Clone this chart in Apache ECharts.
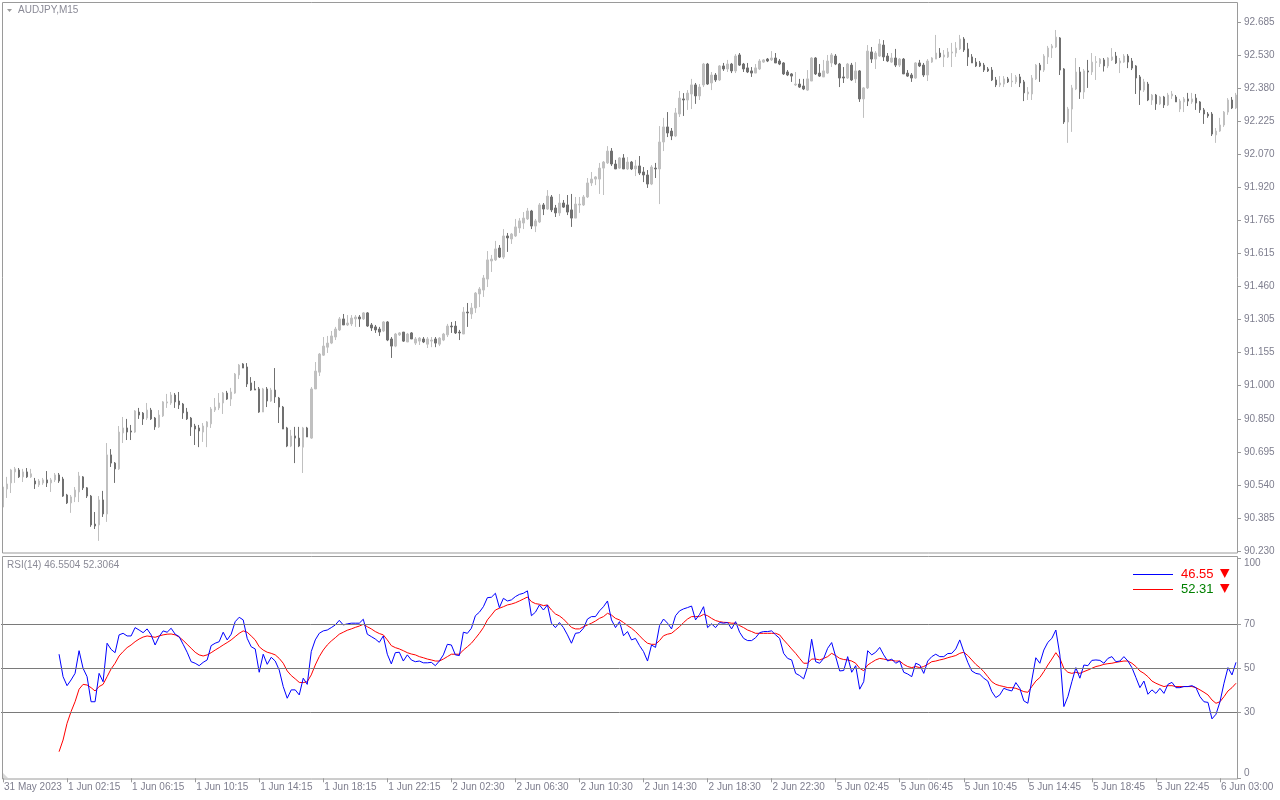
<!DOCTYPE html>
<html><head><meta charset="utf-8">
<script src="https://cdn.jsdelivr.net/npm/echarts@6/dist/echarts.min.js"></script>
<style>html,body{margin:0;padding:0;background:#fff}#c{width:1280px;height:800px}</style>
</head><body><div id="c"></div>
<script>
const symbolTitle = 'AUDJPY,M15';
const rsiTitle = 'RSI(14) 46.5504 52.3064';
const legendRsi = '46.55';
const legendSignal = '52.31';

const opens = [
90.434,90.518,90.546,90.597,90.606,90.574,90.597,90.574,90.555,90.537,
90.546,90.560,90.546,90.560,90.583,90.564,90.490,90.453,90.481,90.504,
90.574,90.523,90.485,90.355,90.351,90.467,90.402,90.676,90.638,90.611,
90.778,90.801,90.787,90.782,90.875,90.870,90.847,90.884,90.847,90.806,
90.857,90.917,90.917,90.954,90.926,90.912,90.875,90.847,90.810,90.801,
90.782,90.806,90.820,90.884,90.894,90.917,90.963,90.935,90.963,91.047,
91.098,91.084,91.010,90.982,90.982,90.875,90.982,90.926,90.977,90.940,
90.898,90.801,90.717,90.764,90.754,90.712,90.801,90.754,90.982,91.060,
91.139,91.176,91.195,91.223,91.256,91.307,91.279,91.284,91.307,91.316,
91.307,91.335,91.279,91.270,91.260,91.251,91.293,91.214,91.181,91.233,
91.246,91.200,91.242,91.195,91.204,91.214,91.190,91.204,91.214,91.190,
91.209,91.233,91.274,91.274,91.246,91.237,91.339,91.330,91.358,91.423,
91.441,91.492,91.576,91.581,91.636,91.594,91.692,91.678,91.692,91.729,
91.752,91.771,91.808,91.738,91.757,91.836,91.817,91.873,91.822,91.799,
91.845,91.836,91.813,91.775,91.836,91.836,91.873,91.938,91.956,91.956,
92.007,92.031,92.086,92.026,92.007,92.054,92.003,92.035,92.003,92.017,
91.989,91.975,91.933,92.007,92.003,92.128,92.198,92.179,92.156,92.258,
92.328,92.323,92.351,92.393,92.342,92.393,92.490,92.402,92.439,92.416,
92.481,92.467,92.490,92.458,92.532,92.490,92.472,92.458,92.448,92.467,
92.499,92.513,92.509,92.518,92.504,92.495,92.453,92.444,92.393,92.397,
92.388,92.369,92.411,92.518,92.448,92.430,92.448,92.495,92.527,92.490,
92.430,92.425,92.485,92.421,92.458,92.328,92.379,92.546,92.513,92.527,
92.578,92.527,92.499,92.518,92.485,92.513,92.448,92.439,92.425,92.495,
92.485,92.439,92.499,92.513,92.541,92.523,92.523,92.541,92.541,92.560,
92.606,92.560,92.523,92.499,92.495,92.485,92.467,92.462,92.416,92.393,
92.397,92.421,92.407,92.407,92.430,92.407,92.351,92.351,92.421,92.485,
92.462,92.523,92.564,92.569,92.611,92.467,92.221,92.281,92.374,92.453,
92.360,92.458,92.453,92.497,92.492,92.509,92.481,92.509,92.527,92.495,
92.499,92.527,92.504,92.481,92.430,92.369,92.397,92.323,92.346,92.305,
92.337,92.300,92.342,92.337,92.281,92.314,92.328,92.314,92.332,92.314,
92.277,92.258,92.258,92.161,92.179,92.207,92.267,92.323,92.286
];
const closes = [
90.527,90.541,90.606,90.611,90.574,90.597,90.574,90.588,90.541,90.555,
90.560,90.546,90.560,90.583,90.555,90.485,90.453,90.481,90.513,90.578,
90.523,90.485,90.351,90.346,90.467,90.402,90.676,90.638,90.611,90.782,
90.801,90.782,90.782,90.880,90.861,90.843,90.884,90.843,90.806,90.861,
90.922,90.922,90.954,90.922,90.908,90.871,90.843,90.806,90.796,90.787,
90.810,90.829,90.889,90.898,90.917,90.963,90.935,90.968,91.051,91.093,
91.079,91.005,90.977,90.977,90.875,90.982,90.926,90.977,90.945,90.898,
90.796,90.717,90.764,90.754,90.717,90.801,90.759,90.982,91.065,91.144,
91.181,91.195,91.228,91.260,91.307,91.279,91.288,91.311,91.316,91.307,
91.335,91.274,91.265,91.256,91.246,91.293,91.209,91.181,91.237,91.242,
91.204,91.237,91.214,91.214,91.218,91.200,91.214,91.209,91.195,91.218,
91.237,91.274,91.270,91.242,91.242,91.339,91.335,91.358,91.427,91.446,
91.497,91.581,91.585,91.632,91.594,91.692,91.683,91.701,91.734,91.762,
91.775,91.808,91.738,91.762,91.836,91.817,91.877,91.813,91.799,91.845,
91.826,91.803,91.775,91.840,91.840,91.873,91.938,91.956,91.966,92.007,
92.035,92.086,92.026,92.003,92.054,92.003,92.035,92.003,92.017,91.984,
91.975,91.933,92.012,92.003,92.128,92.198,92.170,92.156,92.263,92.332,
92.323,92.355,92.393,92.342,92.383,92.490,92.397,92.439,92.416,92.481,
92.467,92.490,92.458,92.527,92.485,92.467,92.453,92.448,92.472,92.504,
92.509,92.504,92.518,92.495,92.490,92.444,92.439,92.434,92.397,92.383,
92.374,92.421,92.518,92.444,92.434,92.458,92.504,92.532,92.490,92.425,
92.425,92.490,92.416,92.458,92.328,92.379,92.550,92.513,92.541,92.583,
92.523,92.504,92.518,92.485,92.513,92.444,92.434,92.425,92.495,92.481,
92.439,92.504,92.518,92.541,92.523,92.532,92.546,92.546,92.564,92.606,
92.555,92.523,92.495,92.481,92.481,92.462,92.458,92.416,92.393,92.402,
92.421,92.407,92.411,92.430,92.402,92.356,92.360,92.425,92.485,92.462,
92.527,92.564,92.574,92.615,92.462,92.221,92.281,92.379,92.453,92.360,
92.458,92.453,92.499,92.501,92.513,92.481,92.518,92.523,92.495,92.504,
92.527,92.499,92.471,92.425,92.369,92.407,92.323,92.346,92.305,92.337,
92.300,92.346,92.351,92.314,92.318,92.328,92.318,92.328,92.309,92.277,
92.258,92.249,92.165,92.179,92.207,92.267,92.323,92.286,92.346
];
const highs = [
90.537,90.574,90.611,90.620,90.615,90.611,90.615,90.611,90.569,90.564,
90.569,90.601,90.569,90.592,90.592,90.574,90.495,90.490,90.527,90.597,
90.578,90.527,90.490,90.411,90.485,90.509,90.731,90.703,90.643,90.810,
90.852,90.843,90.815,90.884,90.894,90.875,90.917,90.894,90.852,90.884,
90.926,90.959,90.968,90.963,90.968,90.917,90.894,90.852,90.820,90.815,
90.824,90.833,90.898,90.940,90.963,90.968,90.973,90.987,91.056,91.098,
91.102,91.102,91.037,91.019,90.991,90.987,90.991,90.987,91.079,90.945,
90.903,90.806,90.792,90.806,90.806,90.806,90.806,90.991,91.107,91.149,
91.223,91.228,91.251,91.270,91.316,91.330,91.325,91.325,91.325,91.325,
91.339,91.339,91.288,91.279,91.270,91.297,91.297,91.223,91.242,91.246,
91.246,91.242,91.246,91.223,91.223,91.223,91.223,91.223,91.223,91.223,
91.242,91.284,91.293,91.297,91.256,91.362,91.381,91.381,91.432,91.455,
91.511,91.622,91.604,91.669,91.650,91.724,91.706,91.706,91.771,91.775,
91.803,91.822,91.813,91.771,91.845,91.845,91.905,91.882,91.836,91.887,
91.859,91.882,91.887,91.873,91.873,91.882,91.961,91.989,91.970,92.031,
92.040,92.109,92.100,92.045,92.058,92.072,92.058,92.040,92.045,92.063,
92.012,91.998,92.021,92.031,92.202,92.240,92.267,92.193,92.286,92.365,
92.355,92.369,92.421,92.402,92.397,92.495,92.495,92.453,92.448,92.485,
92.495,92.509,92.495,92.536,92.541,92.495,92.495,92.476,92.490,92.513,
92.513,92.518,92.550,92.541,92.513,92.499,92.462,92.448,92.453,92.421,
92.421,92.462,92.522,92.522,92.490,92.509,92.532,92.541,92.536,92.495,
92.476,92.495,92.495,92.499,92.462,92.383,92.578,92.569,92.550,92.606,
92.601,92.541,92.541,92.560,92.518,92.518,92.462,92.448,92.499,92.509,
92.495,92.513,92.522,92.625,92.564,92.555,92.564,92.588,92.592,92.625,
92.615,92.588,92.536,92.518,92.504,92.495,92.476,92.476,92.430,92.434,
92.434,92.430,92.448,92.439,92.444,92.416,92.383,92.439,92.490,92.495,
92.536,92.574,92.583,92.648,92.615,92.471,92.291,92.393,92.518,92.476,
92.467,92.509,92.541,92.527,92.518,92.518,92.522,92.564,92.546,92.518,
92.536,92.536,92.518,92.485,92.439,92.421,92.407,92.351,92.351,92.342,
92.342,92.356,92.365,92.346,92.328,92.337,92.356,92.356,92.351,92.318,
92.286,92.267,92.267,92.193,92.240,92.272,92.332,92.337,92.356
];
const lows = [
90.420,90.476,90.499,90.546,90.569,90.550,90.569,90.569,90.518,90.527,
90.537,90.527,90.504,90.550,90.546,90.481,90.448,90.407,90.457,90.457,
90.513,90.476,90.342,90.332,90.277,90.388,90.365,90.620,90.546,90.606,
90.731,90.745,90.745,90.778,90.843,90.815,90.838,90.838,90.792,90.801,
90.852,90.894,90.908,90.894,90.889,90.843,90.838,90.764,90.722,90.712,
90.736,90.712,90.801,90.875,90.884,90.866,90.931,90.903,90.959,91.028,
91.079,90.991,90.973,90.977,90.871,90.875,90.898,90.922,90.917,90.824,
90.796,90.712,90.712,90.638,90.712,90.592,90.759,90.750,90.982,91.042,
91.135,91.149,91.190,91.209,91.251,91.279,91.274,91.274,91.270,91.270,
91.302,91.270,91.251,91.242,91.228,91.246,91.204,91.126,91.176,91.228,
91.200,91.200,91.214,91.186,91.186,91.195,91.172,91.176,91.176,91.181,
91.204,91.223,91.242,91.237,91.209,91.237,91.270,91.307,91.335,91.362,
91.409,91.455,91.525,91.576,91.590,91.585,91.618,91.655,91.687,91.706,
91.724,91.766,91.724,91.710,91.752,91.789,91.813,91.803,91.780,91.785,
91.822,91.789,91.734,91.775,91.799,91.831,91.868,91.924,91.928,91.887,
91.882,92.026,92.017,92.003,92.003,92.003,91.998,91.998,91.970,91.975,
91.942,91.915,91.928,91.961,91.840,92.086,92.151,92.137,92.151,92.244,
92.249,92.277,92.281,92.305,92.323,92.383,92.393,92.369,92.407,92.411,
92.458,92.453,92.448,92.448,92.481,92.453,92.448,92.430,92.448,92.462,
92.495,92.499,92.504,92.495,92.485,92.439,92.434,92.407,92.388,92.379,
92.369,92.365,92.411,92.439,92.430,92.430,92.444,92.476,92.485,92.383,
92.402,92.421,92.411,92.402,92.314,92.240,92.374,92.495,92.467,92.523,
92.504,92.499,92.495,92.476,92.476,92.444,92.430,92.407,92.421,92.476,
92.430,92.411,92.495,92.513,92.518,92.476,92.518,92.476,92.523,92.555,
92.546,92.481,92.495,92.476,92.476,92.453,92.453,92.411,92.383,92.383,
92.383,92.402,92.383,92.397,92.383,92.318,92.323,92.323,92.416,92.407,
92.453,92.490,92.518,92.564,92.439,92.212,92.124,92.175,92.369,92.328,
92.328,92.379,92.439,92.416,92.476,92.455,92.471,92.504,92.490,92.448,
92.495,92.471,92.462,92.351,92.300,92.360,92.318,92.300,92.277,92.300,
92.286,92.295,92.328,92.314,92.267,92.267,92.295,92.305,92.277,92.263,
92.212,92.240,92.156,92.124,92.175,92.198,92.254,92.281,92.281
];

const rsiStart = 14;
const rsiValues = [
56.4,46.2,42.1,44.7,47.7,58.0,
50.0,46.2,34.8,34.8,47.7,43.9,61.4,58.6,57.1,65.2,
65.9,64.7,64.7,68.5,67.4,66.2,67.9,65.2,60.6,64.4,
67.0,66.4,68.2,65.5,64.4,60.9,57.3,53.0,52.3,51.2,
52.7,53.8,60.3,61.4,62.1,66.4,62.9,65.5,71.2,73.2,
72.0,63.6,59.8,58.8,48.2,56.4,51.8,55.0,53.3,49.2,
41.7,36.4,40.2,40.2,37.9,45.5,42.7,57.6,62.9,65.9,
67.0,67.4,68.5,69.7,71.8,69.7,70.2,70.5,70.5,70.5,
72.3,65.5,64.4,63.3,61.8,64.7,56.4,52.0,57.1,57.3,
53.3,56.1,53.8,53.0,53.3,52.5,52.5,52.7,51.2,53.3,
56.1,60.9,60.6,56.1,55.8,66.4,65.9,68.2,73.9,75.5,
78.0,82.1,82.3,84.1,77.6,81.8,80.6,81.1,82.6,83.6,
84.1,85.2,73.9,75.5,78.8,76.5,78.8,70.5,68.5,70.8,
68.5,65.2,61.4,65.9,66.2,68.2,72.4,73.5,73.5,76.1,
78.0,80.6,72.0,68.5,71.2,64.8,66.7,62.9,63.6,60.3,
57.6,53.3,60.6,59.5,69.4,72.4,70.5,67.9,73.9,76.1,
77.0,77.6,78.3,72.0,74.5,78.0,68.5,70.2,68.5,70.8,
70.5,70.8,67.9,71.2,66.4,63.6,62.6,62.6,63.9,66.2,
66.7,66.7,67.0,65.2,63.6,56.8,54.5,53.8,47.7,46.7,
45.2,50.8,63.2,53.0,52.3,54.5,59.1,61.7,55.3,48.8,
49.0,55.3,48.2,51.2,40.5,43.9,58.0,56.1,57.3,59.5,
56.1,53.3,54.2,52.3,53.3,48.2,47.4,46.2,52.3,51.5,
47.7,53.3,55.3,56.4,55.3,55.3,56.7,56.8,58.8,62.9,
57.6,52.7,48.8,47.7,47.3,45.5,44.2,39.4,36.7,37.9,
40.9,40.2,39.7,43.5,40.9,35.2,34.1,44.7,54.8,52.3,
58.3,61.8,63.6,67.4,56.1,32.6,37.1,43.9,50.3,45.5,
51.5,51.2,53.6,53.8,53.6,52.3,54.5,55.3,53.0,53.3,
55.3,53.3,50.3,45.8,41.2,44.2,38.2,40.2,38.6,40.9,
38.6,42.7,43.6,41.2,41.2,41.7,41.7,42.1,41.2,37.1,
34.8,34.5,27.0,29.1,34.8,43.2,50.3,47.0,52.7
];
const rsiSignal = [
12.1,17.4,25.0,30.3,34.8,40.5,
42.7,42.4,41.2,39.7,41.7,42.7,46.2,49.7,52.3,55.6,
57.6,59.4,60.6,62.1,63.3,64.2,64.7,64.4,64.1,64.7,
65.2,65.5,65.6,65.2,64.2,62.7,60.9,59.1,57.3,56.1,
55.6,56.1,57.1,58.3,59.4,60.6,61.7,62.9,64.4,65.9,
67.0,66.4,64.7,62.9,59.8,58.3,57.3,56.8,56.1,54.5,
52.3,48.8,46.7,45.2,43.6,43.5,43.9,47.0,51.5,55.3,
58.3,60.6,62.4,63.9,65.5,66.4,67.3,67.9,68.6,69.2,
70.0,68.9,67.9,66.7,65.8,65.2,62.9,60.3,59.4,58.8,
58.0,57.1,56.5,56.1,55.3,54.8,54.2,53.8,53.3,53.3,
54.2,55.3,56.4,56.4,56.4,58.3,59.8,61.4,63.6,65.9,
68.5,72.0,74.2,76.5,77.3,78.0,78.8,79.2,79.8,80.6,
81.5,82.4,80.3,79.4,79.1,78.5,78.8,76.5,74.7,73.8,
72.4,70.5,68.6,67.9,67.9,68.9,69.7,70.5,71.5,72.7,
73.5,75.0,74.2,72.7,72.0,70.8,69.4,68.2,66.7,64.8,
62.9,61.4,60.9,60.9,62.6,64.8,65.5,65.9,67.4,68.9,
70.8,72.4,73.5,73.5,73.5,74.5,73.9,72.7,71.7,71.2,
70.9,70.8,70.5,70.5,69.4,68.5,67.4,66.7,65.9,65.9,
65.9,65.9,65.9,65.9,65.2,62.9,60.9,58.8,56.8,54.5,
52.3,52.3,54.2,54.2,53.8,54.5,55.3,56.8,55.8,54.5,
54.0,53.8,53.3,52.3,50.0,48.9,51.5,52.7,53.8,54.5,
54.2,53.8,53.6,53.3,53.3,51.8,50.8,50.3,50.8,50.3,
50.8,51.8,53.0,53.3,53.8,54.2,54.8,55.3,55.8,56.8,
57.3,55.8,53.8,51.8,50.3,48.5,46.2,43.9,42.7,42.1,
41.7,41.2,41.2,40.9,40.2,39.4,39.1,41.7,44.2,45.8,
48.5,51.5,54.2,57.1,54.5,50.0,48.2,47.7,48.2,47.7,
48.5,49.2,50.0,50.8,51.2,51.8,52.1,52.3,52.7,53.0,
53.3,53.3,52.3,50.8,48.8,47.7,46.2,44.2,43.2,42.4,
41.7,42.1,42.1,41.7,41.7,41.7,41.7,41.7,41.2,40.2,
39.1,37.9,35.6,34.1,34.8,37.1,39.7,41.2,43.2
];

const xLabels = ['31 May 2023','1 Jun 02:15','1 Jun 06:15','1 Jun 10:15','1 Jun 14:15','1 Jun 18:15','1 Jun 22:15',
  '2 Jun 02:30','2 Jun 06:30','2 Jun 10:30','2 Jun 14:30','2 Jun 18:30','2 Jun 22:30',
  '5 Jun 02:45','5 Jun 06:45','5 Jun 10:45','5 Jun 14:45','5 Jun 18:45','5 Jun 22:45','6 Jun 03:00'];
const xLabelStep = 16;
const priceLabels = ['90.230','90.385','90.540','90.695','90.850','91.000','91.155','91.305','91.460',
  '91.615','91.765','91.920','92.070','92.225','92.380','92.530','92.685'];
const priceMin = 90.230, priceMax = 92.685;
const rsiLevels = [70, 50, 30];
const rsiAxisLabels = [0, 30, 50, 70, 100];

const categories = opens.map((_, i) => String(i));
const candleData = opens.map((o, i) => [o, closes[i], Math.min(lows[i], o, closes[i]), Math.max(highs[i], o, closes[i])]);
const rsiData = rsiValues.map((v, k) => [k + rsiStart, v]);
const sigData = rsiSignal.map((v, k) => [k + rsiStart, v]);
const priceInterval = (priceMax - priceMin) / (priceLabels.length - 1);

const FONT = 'Liberation Sans';
const AXC = '#7e7e8e';
const FRAME = '#9a9a9a';
const showLabel = (idx) => idx % xLabelStep === 0;

const chart = echarts.init(document.getElementById('c'), null, {renderer: 'canvas'});
chart.setOption({
  animation: false,
  backgroundColor: '#ffffff',
  grid: [
    {left: 1, right: 42, top: 22, height: 529},
    {left: 1, right: 42, top: 558.3, height: 220}
  ],
  xAxis: [
    {type: 'category', gridIndex: 0, data: categories, boundaryGap: true,
     axisLine: {show: false}, axisTick: {show: false}, axisLabel: {show: false}, splitLine: {show: false}},
    {type: 'category', gridIndex: 1, data: categories, boundaryGap: true,
     axisLine: {show: false},
     axisTick: {show: true, alignWithLabel: true, length: 4, interval: (i) => showLabel(i), lineStyle: {color: FRAME}},
     axisLabel: {show: true, interval: (i) => showLabel(i), formatter: (v, i) => xLabels[i / xLabelStep] || '',
       align: 'left', margin: 4, color: AXC, fontSize: 10, fontFamily: FONT, padding: [0, 0, 0, 1]},
     splitLine: {show: false}}
  ],
  yAxis: [
    {type: 'value', gridIndex: 0, position: 'right', min: priceMin, max: priceMax, interval: priceInterval,
     axisLine: {show: false}, splitLine: {show: false},
     axisTick: {show: true, length: 3, lineStyle: {color: FRAME}},
     axisLabel: {show: true, margin: 6, color: AXC, fontSize: 10, fontFamily: FONT,
       formatter: (v) => priceLabels[Math.round((v - priceMin) / priceInterval)] || ''}},
    {type: 'value', gridIndex: 1, position: 'right', min: 0, max: 100, interval: 10,
     axisLine: {show: false}, splitLine: {show: false},
     axisTick: {show: true, length: 3, customValues: rsiAxisLabels, lineStyle: {color: FRAME}},
     axisLabel: {show: true, margin: 6, color: AXC, fontSize: 10, fontFamily: FONT, customValues: rsiAxisLabels,
       verticalAlignMaxLabel: 'top', verticalAlignMinLabel: 'bottom',
       formatter: (v) => rsiAxisLabels.indexOf(v) >= 0 ? String(v) : ''}}
  ],
  series: [
    {type: 'candlestick', xAxisIndex: 0, yAxisIndex: 0, data: candleData, barWidth: 2,
     itemStyle: {color: '#c0c0c0', color0: '#707070', borderColor: '#c0c0c0', borderColor0: '#707070', borderWidth: 1},
     emphasis: {disabled: true}},
    {type: 'line', xAxisIndex: 1, yAxisIndex: 1, data: sigData, showSymbol: false, symbol: 'none',
     lineStyle: {color: '#ff0000', width: 1}, z: 3, emphasis: {disabled: true},
     markLine: {silent: true, symbol: ['none', 'none'], label: {show: false}, animation: false,
       lineStyle: {color: '#7a7a7a', width: 1, type: 'solid'}, emphasis: {disabled: true},
       data: rsiLevels.map((v) => ({yAxis: v}))}},
    {type: 'line', xAxisIndex: 1, yAxisIndex: 1, data: rsiData, showSymbol: false, symbol: 'none',
     lineStyle: {color: '#0000ff', width: 1}, z: 4, emphasis: {disabled: true}}
  ],
  graphic: [
    {type: 'rect', shape: {x: 2.5, y: 2.5, width: 1235, height: 550.5}, style: {fill: null, stroke: FRAME, lineWidth: 1}, silent: true, z: 10},
    {type: 'rect', shape: {x: 2.5, y: 556.5, width: 1235, height: 222.5}, style: {fill: null, stroke: FRAME, lineWidth: 1}, silent: true, z: 10},
    {type: 'polygon', shape: {points: [[7, 9], [12, 9], [9.5, 12]]}, style: {fill: '#9a9a9a'}, silent: true},
    {type: 'text', x: 18, y: 10.5, style: {text: symbolTitle, fill: '#8a8a96', font: '10px "Liberation Sans"', verticalAlign: 'middle'}, silent: true},
    {type: 'text', x: 7, y: 565.5, style: {text: rsiTitle, fill: '#8a8a96', font: '10px "Liberation Sans"', verticalAlign: 'middle'}, silent: true},
    {type: 'polygon', shape: {points: [[3, 778], [8, 778], [3, 773]]}, style: {fill: '#d8d8d8'}, silent: true},
    {type: 'line', shape: {x1: 1133, y1: 574.5, x2: 1173, y2: 574.5}, style: {stroke: '#0000ff', lineWidth: 1}, silent: true},
    {type: 'text', x: 1181, y: 574, style: {text: legendRsi, fill: '#ff0000', font: '13px "Liberation Sans"', verticalAlign: 'middle'}, silent: true},
    {type: 'polygon', shape: {points: [[1220, 569], [1229.5, 569], [1224.75, 578]]}, style: {fill: '#ff0000'}, silent: true},
    {type: 'line', shape: {x1: 1133, y1: 589.5, x2: 1173, y2: 589.5}, style: {stroke: '#ff0000', lineWidth: 1}, silent: true},
    {type: 'text', x: 1181, y: 589, style: {text: legendSignal, fill: '#008000', font: '13px "Liberation Sans"', verticalAlign: 'middle'}, silent: true},
    {type: 'polygon', shape: {points: [[1220, 584], [1229.5, 584], [1224.75, 593]]}, style: {fill: '#ff0000'}, silent: true}
  ]
});
</script>
</body></html>
